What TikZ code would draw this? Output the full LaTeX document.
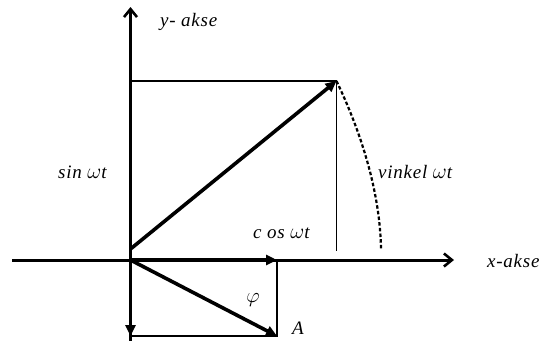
\documentclass[tikz,border=0pt]{standalone}
\usepackage{fontspec}
\usepackage{graphicx}
\setmainfont{Liberation Serif}
\usetikzlibrary{arrows.meta}
\newcommand{\omg}{\ \scalebox{1.25}{$\omega$}}
\begin{document}
\begin{tikzpicture}[x=1pt,y=-1pt,
  axis/.style={line width=3pt,-{Straight Barb[length=8pt,width=13pt,line width=2.6pt]}},
  thin/.style={line width=1.6pt},
  vec/.style={line width=3.6pt,-{Triangle[length=11pt,width=10pt]}},
  lbl/.style={inner sep=0pt,font=\fontsize{19}{21}\selectfont\itshape\addfontfeatures{LetterSpace=4}}]
\useasboundingbox (0,0) rectangle (547,341);
\fill[white] (0,0) rectangle (547,341);
\coordinate (O) at (130.5,260);
\coordinate (ybot) at (130.5,341);
\coordinate (ytop) at (130.5,7);
\coordinate (xl) at (12,260);
\coordinate (xr) at (454,260);
\coordinate (P) at (336.5,81);
\coordinate (Py) at (130.5,81);
\coordinate (Pb) at (336.5,251);
\coordinate (Vs) at (130.5,249);
\coordinate (C) at (277,260);
\coordinate (A) at (277,336);
\coordinate (Ay) at (130.5,336);
\coordinate (Ce) at (381,249);
% axes
\draw[line width=3pt] (O) -- (ybot);
\draw[axis] (O) -- (ytop);
\draw[axis] (xl) -- (xr);
% thin projection lines
\draw[thin] (Py) -- (P) -- (Pb);
\draw[thin] (C) -- (A) -- (Ay);
% vectors
\draw[vec] (Vs) -- (P);
\draw[vec] (O) -- (C);
\draw[vec] (O) -- (A);
\draw[vec] (O) -- (Ay);
% dashed arc
\draw[line width=2.2pt,dash pattern=on 3.5pt off 2.2pt] (P) .. controls (360,130) and (380,190) .. (Ce);
% labels
\node[lbl,anchor=west] (ly) at (160,22) {y- akse};
\node[lbl,anchor=west] (ls) at (58,172) {sin\omg t};
\node[lbl,anchor=west] (lv) at (378,172) {vinkel\omg t};
\node[lbl,anchor=west] (lc) at (253,233) {c os\omg t};
\node[lbl,anchor=west] (lx) at (487,261) {x-akse};
\node[lbl,anchor=center] (lp) at (253,300) {\scalebox{1.2}{$\varphi$}};
\node[lbl,anchor=west] (lA) at (292,328) {A};
\end{tikzpicture}
\end{document}
